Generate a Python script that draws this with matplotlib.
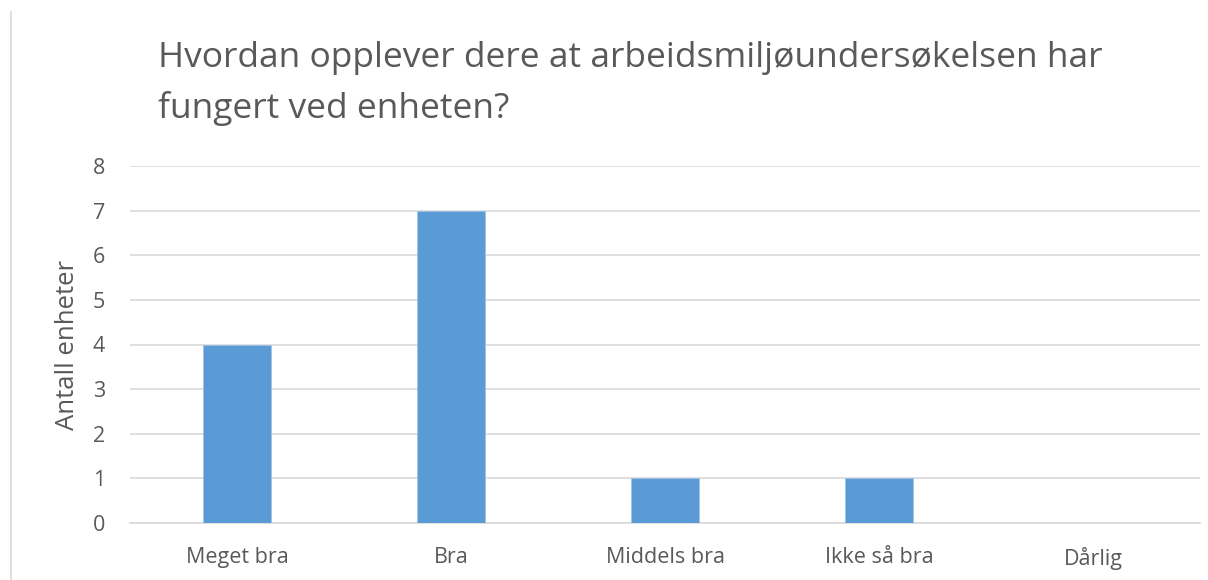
import matplotlib.pyplot as plt
from matplotlib.lines import Line2D

categories = ['Meget bra', 'Bra', 'Middels bra', 'Ikke så bra', 'Dårlig']
values = [4, 7, 1, 1, 0]
y_ticks = [0, 1, 2, 3, 4, 5, 6, 7, 8]

title = 'Hvordan opplever dere at arbeidsmiljøundersøkelsen har\nfungert ved enheten?'
y_label = 'Antall enheter'

text_color = '#595959'
grid_color = '#D9D9D9'
bar_color = '#5B9BD5'

plt.rcParams['font.family'] = ['Open Sans', 'DejaVu Sans']

fig = plt.figure(figsize=(12.08, 5.80), dpi=100)
ax = fig.add_axes([130 / 1208, 1 - 523 / 580, (1200 - 130) / 1208, (523 - 166) / 580])

x = range(len(categories))
ax.bar(x, values, width=0.32, color=bar_color, edgecolor='#9DC3E6', linewidth=0.6, zorder=3)

ax.set_xlim(-0.5, len(categories) - 0.5)
ax.set_ylim(0, 8)
ax.set_yticks(y_ticks)
ax.set_xticks(list(x))
ax.set_xticklabels(categories)
ax.yaxis.grid(True, color=grid_color, linewidth=1.2, zorder=0)
ax.tick_params(axis='both', length=0, labelsize=15.5, labelcolor=text_color)
ax.tick_params(axis='x', pad=17)
ax.tick_params(axis='y', pad=18)
for side in ['top', 'right', 'left']:
    ax.spines[side].set_visible(False)
ax.spines['bottom'].set_color(grid_color)
ax.spines['bottom'].set_linewidth(1.2)

ax.set_ylabel(y_label, fontsize=18.5, color=text_color)
ax.yaxis.set_label_coords((80 - 130) / 1070, 0.5)

fig.text(158 / 1208, 1 - 41 / 580, title, fontsize=25.5, color=text_color,
         ha='left', va='top', linespacing=1.58)

# thin grey frame edge at the left
fig.add_artist(Line2D([11 / 1208, 11 / 1208], [0, 1 - 12 / 580], color=grid_color, linewidth=1.2))

fig.savefig('out.png', dpi=100)
